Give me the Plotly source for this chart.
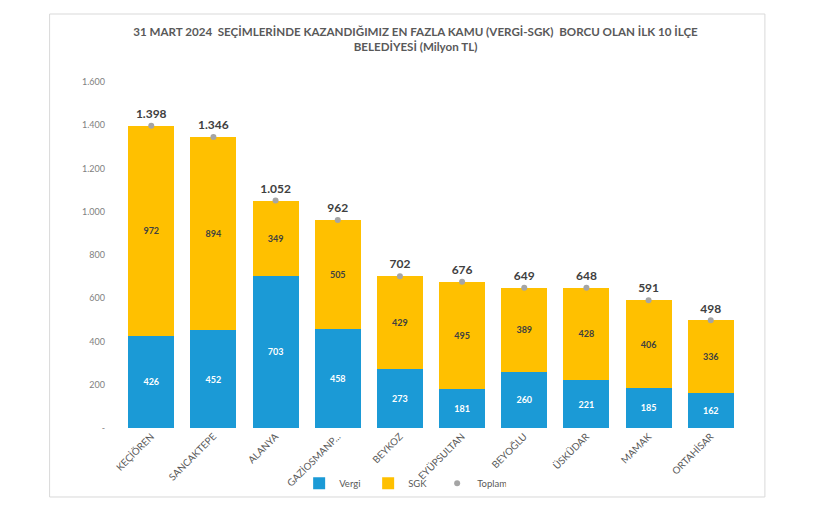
import plotly.graph_objects as go

categories = ["KEÇİÖREN", "SANCAKTEPE", "ALANYA", "GAZİOSMANP...", "BEYKOZ",
              "EYÜPSULTAN", "BEYOĞLU", "ÜSKÜDAR", "MAMAK", "ORTAHİSAR"]
vergi = [426, 452, 703, 458, 273, 181, 260, 221, 185, 162]
sgk = [972, 894, 349, 505, 429, 495, 389, 428, 406, 336]
toplam = [1398, 1346, 1052, 962, 702, 676, 649, 648, 591, 498]
tick_vals = [0, 200, 400, 600, 800, 1000, 1200, 1400, 1600]
tick_text = ["-", "200", "400", "600", "800", "1.000", "1.200", "1.400", "1.600"]

def fmt(v):
    return f"{v:,}".replace(",", ".")

FONT = "Lato"
fig = go.Figure()
fig.add_trace(go.Bar(
    name="Vergi", x=categories, y=vergi, marker=dict(color="#1B9AD6", line=dict(width=0)),
    text=[fmt(v) for v in vergi], textposition="inside", insidetextanchor="middle",
    textangle=0, textfont=dict(color="white", size=9, family=FONT, weight="bold"),
))
fig.add_trace(go.Bar(
    name="SGK", x=categories, y=sgk, marker=dict(color="#FFC000", line=dict(width=0)),
    text=[fmt(v) for v in sgk], textposition="inside", insidetextanchor="middle",
    textangle=0, textfont=dict(color="#404040", size=9, family=FONT, weight="bold"),
))
fig.add_trace(go.Scatter(
    name="Toplam", x=categories, y=toplam, mode="markers+text",
    marker=dict(color="#A5A5A5", size=6),
    text=[fmt(v) for v in toplam], textposition="top center",
    textfont=dict(color="#404040", size=12, family=FONT, weight="bold"),
))

fig.update_layout(
    width=830, height=510,
    barmode="stack", bargap=0.26,
    paper_bgcolor="white", plot_bgcolor="white",
    margin=dict(l=107.5, r=91.5, t=74, b=90, autoexpand=False),
    font=dict(family=FONT, color="#595959"),
    title=dict(
        text="31 MART 2024  SEÇİMLERİNDE KAZANDIĞIMIZ EN FAZLA KAMU (VERGİ-SGK)  BORCU OLAN İLK 10 İLÇE<br>BELEDİYESİ (Milyon TL)",
        x=0.491, xanchor="center", y=0.946, yanchor="top",
        font=dict(size=11.6, color="#595959", family=FONT, weight="bold"),
    ),
    xaxis=dict(tickangle=-45, tickfont=dict(size=9.8, color="#595959"), showgrid=False,
               showline=False, ticks="", automargin=False),
    yaxis=dict(range=[0, 1600], tickvals=tick_vals, ticktext=tick_text, showgrid=False,
               zeroline=False, showline=False, tickfont=dict(size=9, color="#7f7f7f"),
               ticklabelstandoff=10, automargin=False),
    legend=dict(orientation="h", x=0.455, xanchor="center", y=-0.118, yanchor="top",
                font=dict(size=9.5, color="#595959"), traceorder="normal",
                entrywidth=24, entrywidthmode="pixels", itemwidth=30,
                bgcolor="rgba(0,0,0,0)"),
    uniformtext=dict(mode=False),
    shapes=[dict(type="rect", xref="paper", yref="paper", x0=-0.1054, x1=1.03,
                 y0=-0.1994, y1=1.1965, line=dict(color="#D9D9D9", width=1),
                 fillcolor="rgba(0,0,0,0)", layer="below")],
)

fig.write_html("out.html")
